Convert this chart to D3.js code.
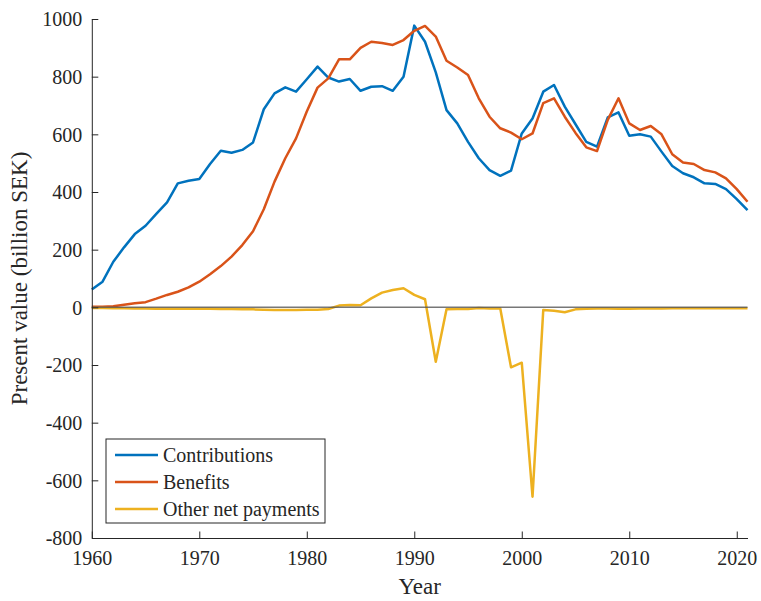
<!DOCTYPE html>
<html>
<head>
<meta charset="utf-8">
<script src="https://cdn.jsdelivr.net/npm/d3@7"></script>
<style>
  html, body { margin: 0; padding: 0; background: #fff; }
  svg { display: block; }
  text { font-family: "Liberation Serif", "DejaVu Serif", serif; fill: #262626; }
</style>
</head>
<body>
<svg id="chart" width="761" height="601"></svg>
<script>
const years = d3.range(1960, 2022);
const contributions = [62, 89, 158, 208, 254, 283, 324, 364, 430, 439,
  445, 497, 543, 536, 546, 572, 687, 742, 763, 748,
  791, 835, 797, 783, 792, 751, 765, 767, 751, 800,
  977, 921, 815, 684, 638, 574, 517, 476, 456, 474,
  603, 655, 748, 771, 696, 635, 574, 557, 659, 676,
  595, 600, 592, 540, 490, 465, 451, 430, 428, 410,
  375, 337];
const benefits = [2, 2, 4, 9, 14, 18, 30, 43, 54, 69,
  89, 115, 143, 176, 216, 264, 340, 436, 517, 586,
  679, 762, 794, 860, 860, 900, 921, 917, 910, 927,
  959, 976, 939, 855, 832, 806, 725, 661, 621, 606,
  583, 603, 708, 725, 661, 605, 555, 542, 650, 725,
  638, 615, 629, 600, 531, 502, 497, 476, 468, 447,
  410, 366];
const otherNet = [-2, -2, -3, -3, -4, -4, -5, -5, -5, -5,
  -5, -5, -6, -6, -7, -7, -8, -9, -9, -9,
  -8, -8, -6, 6, 8, 7, 31, 51, 60, 66,
  43, 28, -189, -7, -6, -6, -2, -4, -4, -208,
  -192, -657, -9, -12, -17, -7, -5, -4, -4, -5,
  -5, -4, -4, -4, -3, -3, -3, -3, -3, -3,
  -3, -3];
const seriesNames = ["Contributions", "Benefits", "Other net payments"];
const seriesColors = ["#0072BD", "#D95319", "#EDB120"];
const xTicks = [1960, 1970, 1980, 1990, 2000, 2010, 2020];
const yTicks = [-800, -600, -400, -200, 0, 200, 400, 600, 800, 1000];

const svg = d3.select("#chart");
const plotL = 91.8, plotR = 747.5, plotT = 19, plotB = 538;
const x = d3.scaleLinear().domain([1960, 2021]).range([plotL, plotR]);
const y = d3.scaleLinear().domain([-800, 1000]).range([plotB, plotT]);
const axisColor = "#262626";

const series = [contributions, benefits, otherNet];
const line = d3.line().x((d, i) => x(years[i])).y(d => y(d));

series.forEach((s, k) => {
  svg.append("path").datum(s)
    .attr("d", line)
    .attr("fill", "none")
    .attr("stroke", seriesColors[k])
    .attr("stroke-width", 2.5)
    .attr("stroke-linejoin", "round");
});

// zero line
svg.append("line")
  .attr("x1", x(1960)).attr("x2", x(2021))
  .attr("y1", y(0)).attr("y2", y(0))
  .attr("stroke", "#555").attr("stroke-opacity", 0.8).attr("stroke-width", 1.5);

// axes (ticks inward)
const tickLen = 6.5;
const fmt = d => String(d); // plain hyphen-minus like the reference
const xAxis = d3.axisBottom(x).tickValues(xTicks).tickFormat(fmt)
  .tickSizeInner(-tickLen).tickSizeOuter(0).tickPadding(tickLen + 6);
const yAxis = d3.axisLeft(y).tickValues(yTicks).tickFormat(fmt)
  .tickSizeInner(-tickLen).tickSizeOuter(0).tickPadding(tickLen + 3);

const gx = svg.append("g").attr("transform", `translate(0,${plotB})`).call(xAxis);
const gy = svg.append("g").attr("transform", `translate(${plotL},0)`).call(yAxis);
[gx, gy].forEach(g => {
  g.select(".domain").attr("stroke", axisColor).attr("stroke-width", 1);
  g.selectAll(".tick line").attr("stroke", axisColor).attr("stroke-width", 1);
  g.selectAll(".tick text").attr("font-size", 20)
    .attr("font-family", "'Liberation Serif', serif").attr("fill", axisColor);
});
gy.selectAll(".tick text").attr("dy", "0.34em");

// axis labels
svg.append("text")
  .attr("x", (plotL + plotR) / 2).attr("y", 594)
  .attr("text-anchor", "middle").attr("font-size", 23)
  .text("Year");
svg.append("text")
  .attr("transform", `translate(27,${(plotT + plotB) / 2}) rotate(-90)`)
  .attr("text-anchor", "middle").attr("font-size", 23)
  .text("Present value (billion SEK)");

// legend
const lg = svg.append("g");
lg.append("rect")
  .attr("x", 106).attr("y", 439).attr("width", 219).attr("height", 84)
  .attr("fill", "#fff").attr("stroke", axisColor).attr("stroke-width", 1);
seriesNames.forEach((name, k) => {
  const yy = 455 + k * 27;
  lg.append("line").attr("x1", 115).attr("x2", 158).attr("y1", yy).attr("y2", yy)
    .attr("stroke", seriesColors[k]).attr("stroke-width", 2.5);
  lg.append("text").attr("x", 163).attr("y", yy).attr("dy", "0.34em")
    .attr("font-size", 20).text(name);
});
</script>
</body>
</html>
